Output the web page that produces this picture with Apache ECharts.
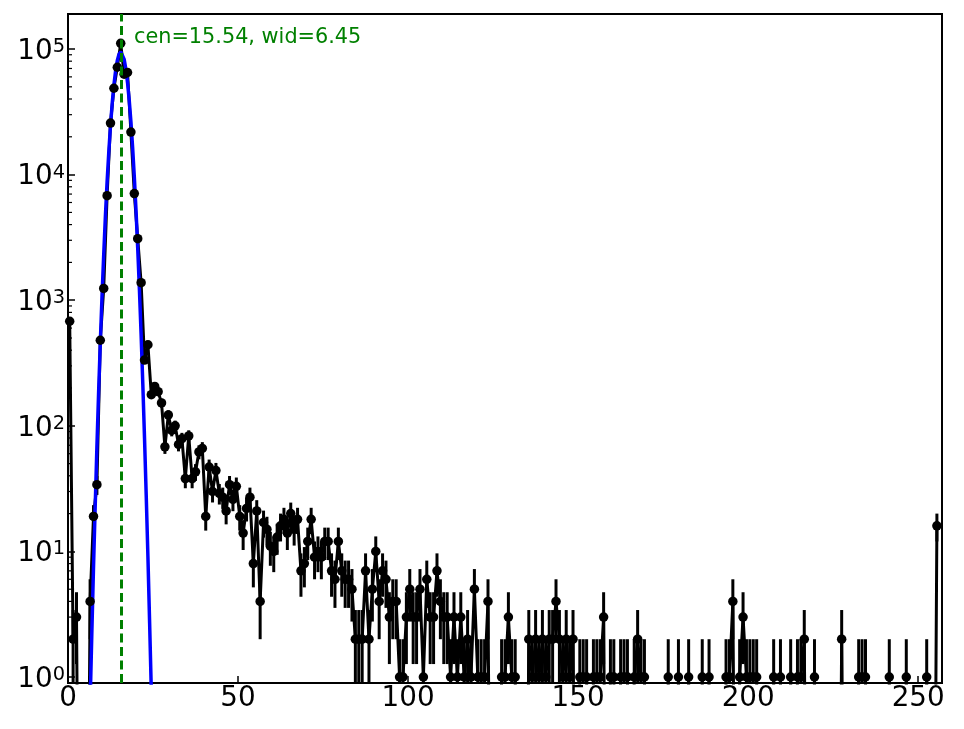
<!DOCTYPE html>
<html>
<head>
<meta charset="utf-8">
<script src="https://cdn.jsdelivr.net/npm/echarts@6/dist/echarts.min.js"></script>
<style>
html, body { margin: 0; padding: 0; background: #fff; }
#main { width: 964px; height: 729px; }
</style>
</head>
<body>
<div id="main"></div>
<script>
// counts per bin, bin i is centred at i + 0.5
var counts = [
	680, 2, 3, 0, 0, 0, 4, 19, 34, 480,
	1240, 6800, 25700, 48700, 71600, 111000, 63000, 65000, 21800, 7070,
	3090, 1380, 334, 442, 177, 206, 187, 152, 68, 122,
	92, 100, 71, 79, 38, 83, 38, 43, 62, 66,
	19, 47, 30, 44, 29, 27, 21, 34, 26, 33,
	19, 14, 22, 27, 8, 21, 4, 17, 15, 11,
	10, 13, 16, 18, 14, 20, 15, 18, 7, 8,
	12, 18, 9, 10, 9, 12, 12, 7, 6, 12,
	7, 6, 6, 5, 2, 2, 2, 7, 2, 5,
	10, 4, 7, 6, 3, 4, 4, 1, 1, 3,
	5, 3, 3, 5, 1, 6, 3, 3, 7, 4,
	3, 3, 1, 3, 1, 3, 1, 2, 1, 5,
	1, 1, 1, 4, 0, 0, 0, 1, 1, 3,
	1, 1, 0, 0, 0, 2, 1, 2, 1, 2,
	1, 2, 2, 4, 2, 1, 2, 1, 2, 0,
	1, 1, 1, 0, 1, 1, 1, 3, 0, 1,
	1, 0, 1, 1, 1, 0, 1, 2, 1, 1,
	0, 0, 0, 0, 0, 0, 1, 0, 0, 1,
	0, 0, 1, 0, 0, 0, 1, 0, 1, 0,
	0, 0, 0, 1, 1, 4, 0, 1, 3, 1,
	1, 1, 1, 0, 0, 0, 0, 1, 0, 1,
	0, 0, 1, 0, 1, 1, 2, 0, 0, 1,
	0, 0, 0, 0, 0, 0, 0, 2, 0, 0,
	0, 0, 1, 1, 1, 0, 0, 0, 0, 0,
	0, 1, 0, 0, 0, 0, 1, 0, 0, 0,
	0, 0, 1, 0, 0, 16
];

// gaussian fit curve
var fitX = [6.5, 7, 7.5, 8, 8.5, 9, 9.5, 10, 10.5, 11, 11.5, 12, 12.5, 13, 13.5, 14, 14.5, 15, 15.5,
	16, 16.5, 17, 17.5, 18, 18.5, 19, 19.5, 20, 20.5, 21, 21.5, 22, 22.5, 23, 23.5, 24, 24.5];
var fitY = [0.6, 2.2, 7.5, 23, 68, 184, 460, 1070, 2300, 4700, 8800, 15200, 24600, 37000, 51700, 67200, 81100, 91000, 95000,
	92100, 83000, 69600, 54200, 39200, 26400, 16500, 9600, 5200, 2600, 1220, 530, 214, 80, 28, 9.1, 2.7, 0.77];

var fitCen = 15.54;
var fitWid = 6.45;

var xTicks = [0, 50, 100, 150, 200, 250];
var yMinorTicks = [
	2, 3, 4, 5, 6, 7, 8, 9,
	20, 30, 40, 50, 60, 70, 80, 90,
	200, 300, 400, 500, 600, 700, 800, 900,
	2000, 3000, 4000, 5000, 6000, 7000, 8000, 9000,
	20000, 30000, 40000, 50000, 60000, 70000, 80000, 90000
];

var FONT = 'DejaVu Sans';
var TINY = 1e-3; // stands in for zero on the log axis, falls below the frame

var lineData = [], markData = [], errData = [];
for (var i = 0; i < counts.length; i++) {
	var x = i + 0.5, v = counts[i];
	lineData.push([x, v > 0 ? v : TINY]);
	if (v > 0) {
		markData.push([x, v]);
		errData.push([x, Math.max(v - Math.sqrt(v), TINY), v + Math.sqrt(v)]);
	}
}
var fitData = [];
for (var j = 0; j < fitX.length; j++) {
	fitData.push([fitX[j], fitY[j]]);
}
var minorData = [];
for (var k = 0; k < yMinorTicks.length; k++) {
	minorData.push([0, yMinorTicks[k]]);
}

function renderErr(params, api) {
	var cs = params.coordSys;
	var top = api.coord([api.value(0), api.value(2)]);
	var bot = api.coord([api.value(0), api.value(1)]);
	return {
		type: 'line',
		shape: { x1: top[0], y1: Math.max(top[1], cs.y), x2: top[0], y2: Math.min(bot[1], cs.y + cs.height) },
		style: { stroke: '#000', lineWidth: 3 }
	};
}

function renderMinor(params, api) {
	var p = api.coord([0, api.value(1)]);
	return {
		type: 'line',
		shape: { x1: p[0], y1: p[1], x2: p[0] + 4, y2: p[1] },
		style: { stroke: '#000', lineWidth: 1.2 }
	};
}

var option = {
	animation: false,
	backgroundColor: '#fff',
	grid: {
		left: 68, right: 22, top: 14, bottom: 46,
		show: true, borderColor: '#000', borderWidth: 2,
		containLabel: false
	},
	xAxis: {
		type: 'value',
		min: 0, max: 257, interval: 50,
		axisLine: { show: true, onZero: false, lineStyle: { color: '#000', width: 2 } },
		axisTick: { show: true, inside: true, length: 7, lineStyle: { color: '#000', width: 1.5 } },
		splitLine: { show: false },
		axisLabel: {
			margin: 2, color: '#000', fontSize: 27.8, fontFamily: FONT,
			showMaxLabel: false,
			formatter: function (val) {
				return xTicks.indexOf(val) >= 0 ? String(val) : '';
			}
		}
	},
	yAxis: {
		type: 'log',
		logBase: 10,
		min: 0.896, max: 190000,
		axisLine: { show: true, lineStyle: { color: '#000', width: 2 } },
		axisTick: { show: true, inside: true, length: 7, lineStyle: { color: '#000', width: 1.5 } },
		splitLine: { show: false },
		axisLabel: {
			margin: 3,
			padding: [5, 0, 0, 0],
			showMinLabel: false, showMaxLabel: false,
			formatter: function (val) {
				var e = Math.round(Math.log(val) / Math.LN10);
				if (Math.abs(Math.pow(10, e) - val) / val > 1e-6) return '';
				return '{b|10}{s|' + e + '}';
			},
			rich: {
				b: { fontSize: 27.8, fontFamily: FONT, color: '#000' },
				s: { fontSize: 19.4, fontFamily: FONT, color: '#000', verticalAlign: 'top' }
			}
		}
	},
	graphic: [{
		type: 'text',
		left: 134,
		top: 27,
		z: 10,
		style: {
			text: 'cen=' + fitCen.toFixed(2) + ', wid=' + fitWid.toFixed(2),
			fill: '#008000',
			font: '20.8px "' + FONT + '"'
		}
	}],
	series: [
		{
			type: 'custom',
			name: 'minor',
			renderItem: renderMinor,
			data: minorData,
			encode: { x: 0, y: 1 },
			silent: true,
			z: 1
		},
		{
			type: 'custom',
			name: 'err',
			renderItem: renderErr,
			data: errData,
			encode: { x: 0, y: [1, 2] },
			silent: true,
			z: 2
		},
		{
			type: 'line',
			name: 'counts',
			data: lineData,
			showSymbol: false,
			clip: true,
			lineStyle: { color: '#000', width: 3, opacity: 1 },
			z: 2
		},
		{
			type: 'line',
			name: 'fit',
			data: fitData,
			showSymbol: false,
			clip: true,
			lineStyle: { color: '#0000ff', width: 3.5, opacity: 1 },
			z: 3
		},
		{
			type: 'scatter',
			name: 'points',
			data: markData,
			symbol: 'circle',
			symbolSize: 9.5,
			itemStyle: { color: '#000', opacity: 1 },
			clip: true,
			z: 4
		},
		{
			type: 'line',
			name: 'centre',
			data: [],
			z: 5,
			markLine: {
				silent: true,
				symbol: ['none', 'none'],
				label: { show: false },
				lineStyle: { color: '#008000', type: [9, 4.5], width: 3, opacity: 1 },
				data: [{ xAxis: fitCen }]
			}
		}
	]
};

var chart = echarts.init(document.getElementById('main'));
chart.setOption(option);
</script>
</body>
</html>
